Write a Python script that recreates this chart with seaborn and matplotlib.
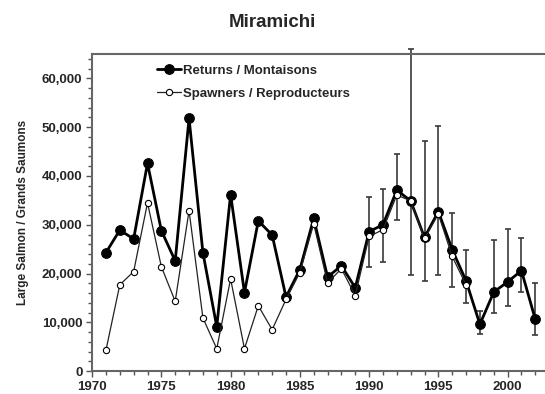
import numpy as np
import pandas as pd
import matplotlib
matplotlib.use("Agg")
import matplotlib.pyplot as plt
import seaborn as sns
from matplotlib.ticker import MultipleLocator, FuncFormatter

years = list(range(1971, 2003))
returns = [24300, 28900, 27100, 42600, 28800, 22600, 51800, 24300, 9100, 36200,
           16100, 30800, 27900, 15200, 20800, 31300, 19300, 21600, 17100, 28600,
           30000, 37100, 34900, 27400, 32700, 24900, 18500, 9600, 16200, 18300,
           20600, 10600]
spawner_years = list(range(1971, 1998))
spawners = [4300, 17700, 20400, 34500, 21400, 14300, 32900, 10900, 4600, 18900,
            4600, 13400, 8500, 14700, 20200, 30200, 18100, 21000, 15500, 27600,
            29000, 36100, 34900, 27200, 32200, 23500, 17700]

err_years = list(range(1990, 2003))
err_low = [21300, 22300, 31000, 19700, 18400, 19700, 17200, 14000, 7700, 11900,
           13400, 16300, 7400]
err_high = [35700, 37400, 44600, 66000, 47200, 50200, 32500, 24900, 12400, 26900,
            29100, 27300, 18100]

sns.set_style("ticks")
plt.rcParams["font.family"] = ["Liberation Sans", "DejaVu Sans"]
plt.rcParams["font.weight"] = "bold"

fig = plt.figure(figsize=(5.45, 3.94), dpi=100)
ax = fig.add_axes([0.169, 0.058, 0.831, 0.805])

ret_df = pd.DataFrame({"year": years, "value": returns})
spw_df = pd.DataFrame({"year": spawner_years, "value": spawners})

# confidence intervals on returns
ret_map = dict(zip(years, returns))
mid = np.array([ret_map[y] for y in err_years])
yerr = np.vstack([mid - np.array(err_low), np.array(err_high) - mid])
ax.errorbar(err_years, mid, yerr=yerr, fmt="none", ecolor="#3a3a3a",
            elinewidth=1.2, capsize=2.5, capthick=1.2, zorder=1, clip_on=False)

sns.lineplot(data=ret_df, x="year", y="value", ax=ax, color="black",
             linewidth=2.0, marker="o", markersize=7, markerfacecolor="black",
             markeredgecolor="black", label="Returns / Montaisons", zorder=3)
sns.lineplot(data=spw_df, x="year", y="value", ax=ax, color="#222222",
             linewidth=0.9, marker="o", markersize=4.5, markerfacecolor="white",
             markeredgecolor="black", markeredgewidth=0.8,
             label="Spawners / Reproducteurs", zorder=4)

ax.set_xlim(1970, 2002.7)
ax.set_ylim(0, 65000)
ax.xaxis.set_major_locator(MultipleLocator(5))
ax.xaxis.set_minor_locator(MultipleLocator(1))
ax.yaxis.set_major_locator(MultipleLocator(10000))
ax.yaxis.set_minor_locator(MultipleLocator(2000))
ax.yaxis.set_major_formatter(FuncFormatter(lambda v, p: f"{int(v):,}"))

ax.tick_params(axis="both", which="major", direction="out", length=4, width=1,
               color="#555555", labelsize=9.5, pad=3)
ax.tick_params(axis="both", which="minor", direction="out", length=3, width=1,
               color="#555555")
for lab in ax.get_xticklabels() + ax.get_yticklabels():
    lab.set_fontweight("bold")

for side in ["left", "bottom", "top"]:
    ax.spines[side].set_visible(True)
    ax.spines[side].set_color("#666666")
    ax.spines[side].set_linewidth(1.5)
ax.spines["right"].set_visible(False)

ax.set_xlabel("")
ax.set_ylabel("Large Salmon / Grands Saumons", fontsize=8.5, fontweight="bold",
              labelpad=9)

leg = ax.legend(loc="upper left", bbox_to_anchor=(0.122, 0.995), frameon=False,
                fontsize=9.5, handlelength=1.85, handletextpad=0.15,
                labelspacing=0.8, borderaxespad=0.3)
for t in leg.get_texts():
    t.set_fontweight("bold")

fig.text(0.5, 0.943, "Miramichi", ha="center", va="center", fontsize=13.5,
         fontweight="bold")

fig.savefig("out.png", dpi=100)
